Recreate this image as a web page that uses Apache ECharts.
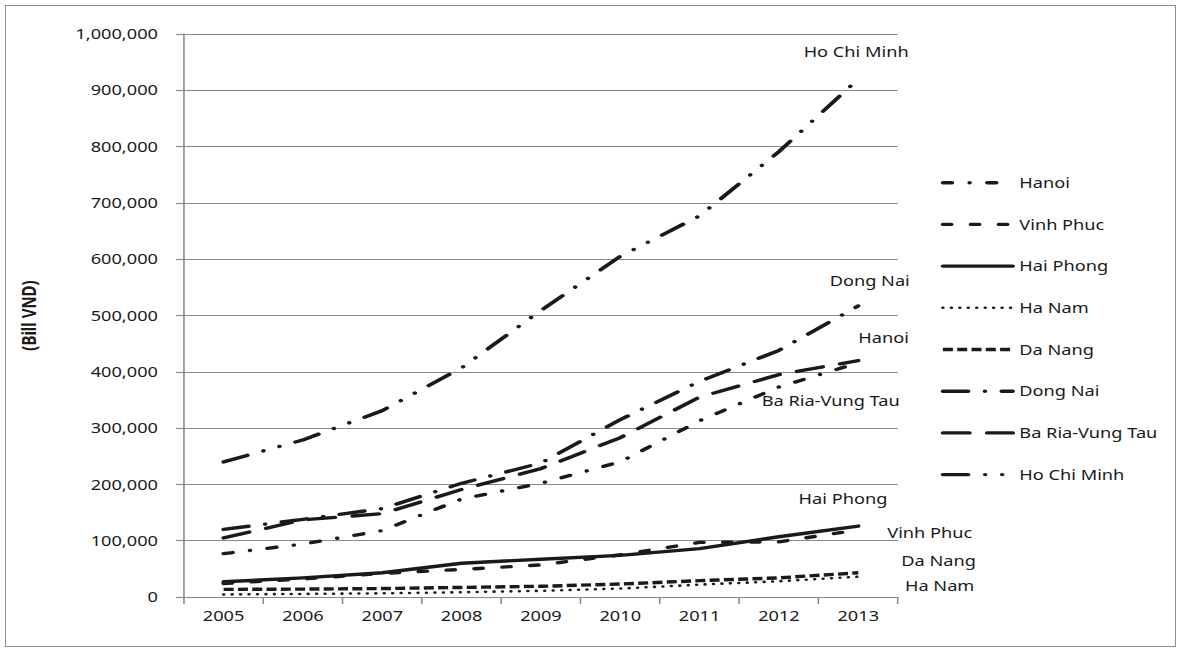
<!DOCTYPE html>
<html>
<head>
<meta charset="utf-8">
<script src="https://cdn.jsdelivr.net/npm/echarts@6/dist/echarts.min.js"></script>
<style>
  html, body { margin: 0; padding: 0; background: #ffffff; overflow: hidden; }
  #frame { position: absolute; left: 5px; top: 5px; width: 1171px; height: 642px;
           border: 1px solid #8c8c8c; box-sizing: border-box; }
  /* the chart is laid out narrow and stretched horizontally */
  #chart { position: absolute; left: 0; top: 0; width: 908.5px; height: 652px;
           transform: scaleX(1.3); transform-origin: 0 0; }
</style>
</head>
<body>
<div id="frame"></div>
<div id="chart"></div>
<script>
// GRDP by province, billion VND
const years = ['2005', '2006', '2007', '2008', '2009', '2010', '2011', '2012', '2013'];
const hanoi     = [77000, 94000, 118000, 174000, 202000, 240000, 313000, 373000, 416000];
const vinhPhuc  = [24000, 32000, 42000, 49000, 57000, 75000, 97000, 98000, 119000];
const haiPhong  = [27000, 34000, 43000, 60000, 67000, 74000, 86000, 107000, 126000];
const haNam     = [4500, 5500, 6500, 8500, 11000, 15000, 22000, 28000, 36000];
const daNang    = [13500, 14000, 15000, 17000, 19000, 23000, 29000, 34000, 43000];
const dongNai   = [120000, 138000, 157000, 202000, 238000, 315000, 383000, 438000, 517000];
const baRiaVT   = [105000, 137000, 148000, 191000, 228000, 283000, 355000, 395000, 420000];
const hoChiMinh = [240000, 279000, 331000, 407000, 509000, 605000, 677000, 791000, 920000];
const yTicks = { min: 0, max: 1000000, step: 100000 };

const FONT = 'Noto Sans';
const INK = '#1a1a1a';
const AXIS = '#8a8a8a';

// line dash patterns and end-of-line label shifts
const styles = {
  'Hanoi':           { width: 3.4, cap: 'round', dash: [7, 13.5, 0.1, 13.5],          shift: [-0.5, -25] },
  'Vinh Phuc':       { width: 3.4, cap: 'round', dash: [6.5, 15],                    shift: [21.8, 3] },
  'Hai Phong':       { width: 3.4, cap: 'round', dash: 'solid',                      shift: [-46.4, -27] },
  'Ha Nam':          { width: 2.6, cap: 'round', dash: [0.1, 6.4],                   shift: [35.4, 9] },
  'Da Nang':         { width: 3.4, cap: 'butt',  dash: [7.7, 3.3],                   shift: [32.6, -12] },
  'Dong Nai':        { width: 3.4, cap: 'round', dash: [19.5, 12.8, 0.1, 12.8],      shift: [-22.5, -25] },
  'Ba Ria-Vung Tau': { width: 3.4, cap: 'round', dash: [20.5, 13.5],                 shift: [-74.8, 40.5] },
  'Ho Chi Minh':     { width: 3.4, cap: 'round', dash: [19.5, 13, 0.1, 13, 0.1, 13], shift: [-42.5, -27] }
};

const seriesData = [
  ['Hanoi', hanoi],
  ['Vinh Phuc', vinhPhuc],
  ['Hai Phong', haiPhong],
  ['Ha Nam', haNam],
  ['Da Nang', daNang],
  ['Dong Nai', dongNai],
  ['Ba Ria-Vung Tau', baRiaVT],
  ['Ho Chi Minh', hoChiMinh]
];

const series = seriesData.map(([name, values]) => {
  const s = styles[name];
  const last = values.length - 1;
  return {
    name: name,
    type: 'line',
    data: values,
    symbol: 'none',
    smooth: false,
    lineStyle: { color: INK, width: s.width, type: s.dash, cap: s.cap, join: 'round' },
    itemStyle: { color: INK },
    emphasis: { disabled: true },
    markPoint: {
      symbol: 'circle',
      symbolSize: 1,
      itemStyle: { color: 'rgba(0,0,0,0)' },
      silent: true,
      animation: false,
      data: [{ coord: [years[last], values[last]] }],
      label: {
        show: true,
        position: 'right',
        distance: 0,
        offset: s.shift,
        formatter: name,
        color: INK,
        fontFamily: FONT,
        fontSize: 14,
        align: 'left',
        verticalAlign: 'middle'
      }
    }
  };
});

const chart = echarts.init(document.getElementById('chart'), null, { renderer: 'svg' });
chart.setOption({
  animation: false,
  backgroundColor: 'transparent',
  textStyle: { fontFamily: FONT },
  grid: { left: 141.5, top: 34, width: 549.2, height: 563, containLabel: false },
  legend: {
    orient: 'vertical',
    left: 718.6,
    top: 170.7,
    itemWidth: 53.8,
    itemHeight: 14,
    itemGap: 27.7,
    data: seriesData.map(d => d[0]),
    selectedMode: false,
    // legend keys show only the line pattern
    itemStyle: { color: 'rgba(0,0,0,0)', borderColor: 'rgba(0,0,0,0)', borderWidth: 0, opacity: 0 },
    lineStyle: { width: 'inherit', type: 'inherit', cap: 'inherit' },
    textStyle: { color: INK, fontFamily: FONT, fontSize: 14, lineHeight: 14 }
  },
  xAxis: {
    type: 'category',
    data: years,
    boundaryGap: true,
    axisLine: { lineStyle: { color: AXIS, width: 1.2 } },
    axisTick: { show: true, length: 7, lineStyle: { color: AXIS, width: 1.2 } },
    axisLabel: { color: INK, fontFamily: FONT, fontSize: 14, margin: 12 },
    splitLine: { show: false }
  },
  yAxis: {
    type: 'value',
    min: yTicks.min,
    max: yTicks.max,
    interval: yTicks.step,
    name: '(Bill VND)',
    nameLocation: 'middle',
    nameRotate: 90,
    nameGap: 112,
    nameTextStyle: { color: INK, fontFamily: FONT, fontSize: 15, fontWeight: 'bold' },
    axisLine: { show: true, lineStyle: { color: AXIS, width: 1.2 } },
    axisTick: { show: true, length: 6, lineStyle: { color: AXIS, width: 1.2 } },
    axisLabel: {
      color: INK, fontFamily: FONT, fontSize: 14, margin: 20,
      formatter: v => v.toLocaleString('en-US')
    },
    splitLine: { show: true, lineStyle: { color: AXIS, width: 1.2 } }
  },
  series: series
});
</script>
</body>
</html>
